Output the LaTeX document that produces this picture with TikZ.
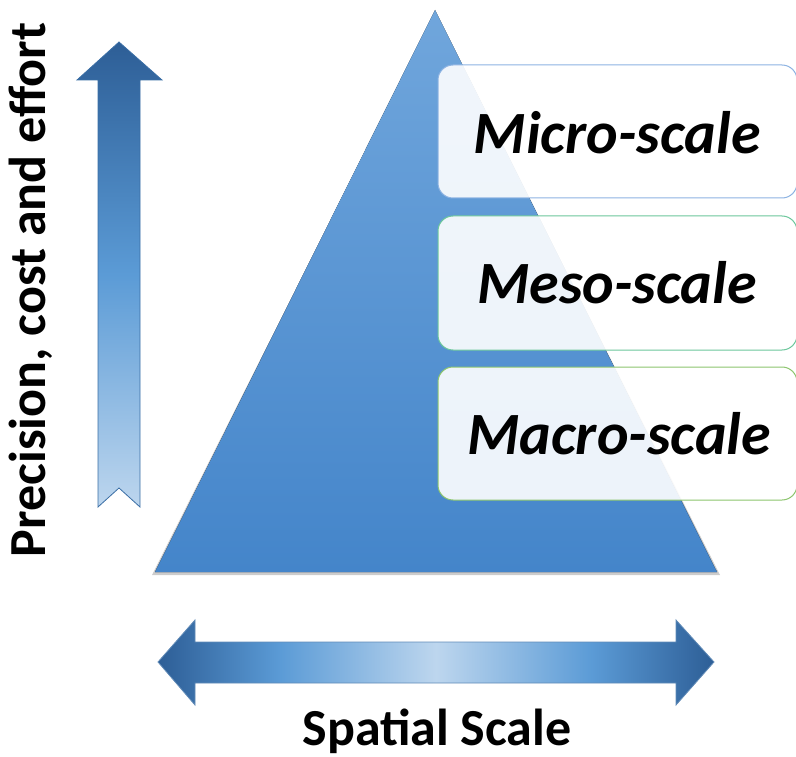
\documentclass[tikz,border=0pt]{standalone}
\usepackage{fontspec}
\setmainfont{Carlito}
\definecolor{darkblue}{HTML}{2D5E96}
\definecolor{midblue}{HTML}{5B9BD6}
\definecolor{lightblue}{HTML}{BDD6EE}
\definecolor{tritop}{HTML}{70A6DC}
\definecolor{tribot}{HTML}{4485CA}
\definecolor{edgeblue}{HTML}{3A6EA5}
\definecolor{microedge}{HTML}{8DB3E2}
\definecolor{mesoedge}{HTML}{6CC79C}
\definecolor{macroedge}{HTML}{8CC56E}
\pgfdeclarehorizontalshading{harrow}{100bp}{color(0bp)=(darkblue); color(25bp)=(darkblue); color(36bp)=(midblue); color(50bp)=(lightblue); color(64bp)=(midblue); color(75bp)=(darkblue); color(100bp)=(darkblue)}
\pgfdeclareverticalshading{varrow}{100bp}{color(0bp)=(lightblue); color(25bp)=(lightblue); color(50bp)=(midblue); color(75bp)=(darkblue); color(100bp)=(darkblue)}
\tikzset{
  scalebox/.style={rounded corners=15pt, fill=white, fill opacity=0.9, line width=1pt},
  scaletext/.style={font=\fontsize{60}{62}\selectfont\bfseries\itshape, text=black},
  axistext/.style={font=\fontsize{52}{54}\selectfont\bfseries, text=black},
}
\begin{document}
\begin{tikzpicture}[x=1pt,y=-1pt]
\useasboundingbox (0,0) rectangle (796,757);
% triangle
\fill[black!40, opacity=0.5] (152,575) -- (435,12) -- (720,575) -- cycle;
\fill[top color=tritop, bottom color=tribot] (155,572) -- (435,10) -- (717,572) -- cycle;
% boxes
\draw[scalebox, draw=microedge] (438,65) rectangle (797,198);
\draw[scalebox, draw=mesoedge] (438,216) rectangle (797,350);
\draw[scalebox, draw=macroedge] (438,367) rectangle (797,500);
\node[scaletext] (micro) at (617,133) {Micro-scale};
\node[scaletext] (meso) at (617,283) {Meso-scale};
\node[scaletext] (macro) at (619,434) {Macro-scale};
% vertical arrow
\draw[edgeblue, line width=0.8pt, shading=varrow]
  (119,42) -- (162,80) -- (140,80) -- (140,507) -- (119,488) -- (98,507) -- (98,80) -- (77,80) -- cycle;
\node[axistext, rotate=90] (prec) at (31,290) {Precision, cost and effort};
% horizontal arrow
\draw[edgeblue!80, line width=0.8pt, shading=harrow]
  (158,662) -- (195,620) -- (195,642) -- (676,642) -- (676,620) -- (714,662) -- (676,705) -- (676,683) -- (195,683) -- (195,705) -- cycle;
\node[axistext, inner sep=0pt, anchor=base] (spatial) at (437,745) {Spatial Scale};
\end{tikzpicture}
\end{document}
